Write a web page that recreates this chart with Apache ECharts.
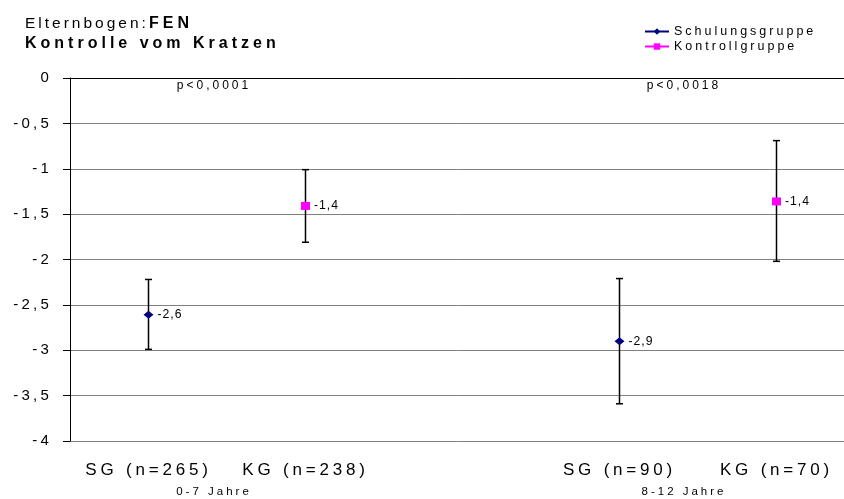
<!DOCTYPE html>
<html>
<head>
<meta charset="utf-8">
<title>Kontrolle vom Kratzen</title>
<script src="https://cdn.jsdelivr.net/npm/echarts@6/dist/echarts.min.js"></script>
<style>
  html, body { margin: 0; padding: 0; background: #fff; }
  #main { width: 844px; height: 499px; }
</style>
</head>
<body>
<div id="main"></div>
<script>
// Kategorien (leere Mitte trennt die beiden Altersgruppen)
const categories = ['SG (n=265)', 'KG (n=238)', '', 'SG (n=90)', 'KG (n=70)']
const seriesNames = ['Schulungsgruppe', 'Kontrollgruppe']
const groupLabels = ['0-7 Jahre', '8-12 Jahre']
const pLabels = ['p<0,0001', 'p<0,0018']

// Mittelwerte und Fehlerbalken (untere / obere Grenze)
const sgMean = [-2.61, null, null, -2.90, null]
const sgLow = [-2.99, null, null, -3.59, null]
const sgHigh = [-2.22, null, null, -2.21, null]
const kgMean = [null, -1.41, null, null, -1.36]
const kgLow = [null, -1.81, null, null, -2.02]
const kgHigh = [null, -1.01, null, null, -0.69]

// y-Achse
const yMin = -4
const yMax = 0
const yStep = 0.5

const FONT = '"Liberation Sans", Arial, sans-serif'
const groupX = [214, 684] // Mitte der Gruppenbeschriftungen

const comma = v => String(v).replace('.', ',')
const asLine = arr => arr.map(v => (v === null ? '-' : v))
const errData = (low, high) => {
    const out = []
    low.forEach((v, i) => {
        if (v !== null) out.push([i, v, high[i]])
    })
    return out
}

// gesperrte Schrift wie im Excel-Original (Sperrung je Schriftgröße)
const SPACING = { 17: 3.8, 16: 4, 15.5: 3, 15: 3.2, 12.5: 3, 12: 3, 11.5: 3, 12.2: 1 }
const fillText = CanvasRenderingContext2D.prototype.fillText
CanvasRenderingContext2D.prototype.fillText = function (...args) {
    const m = /([\d.]+)px/.exec(this.font)
    const s = m ? SPACING[parseFloat(m[1])] : undefined
    this.letterSpacing = (s === undefined ? 3 : s) + 'px'
    return fillText.apply(this, args)
}

const chart = echarts.init(document.getElementById('main'))

function renderErr(params, api) {
    const top = api.coord([api.value(0), api.value(2)])
    const bot = api.coord([api.value(0), api.value(1)])
    const style = { stroke: '#000', lineWidth: 1.5 }
    const cap = 3.5
    return {
        type: 'group',
        children: [
            { type: 'line', shape: { x1: top[0], y1: top[1], x2: bot[0], y2: bot[1] }, style },
            { type: 'line', shape: { x1: top[0] - cap, y1: top[1], x2: top[0] + cap, y2: top[1] }, style },
            { type: 'line', shape: { x1: bot[0] - cap, y1: bot[1], x2: bot[0] + cap, y2: bot[1] }, style }
        ]
    }
}

const pointLabel = {
    show: true,
    position: 'right',
    distance: 4,
    fontFamily: FONT,
    fontSize: 12.2,
    color: '#000',
    formatter: p => p.value.toFixed(1).replace('.', ',')
}

chart.setOption({
    animation: false,
    title: [
        {
            text: 'Elternbogen:', left: 25, top: 16, padding: 0,
            textStyle: { fontFamily: FONT, fontSize: 15.5, fontWeight: 'normal', color: '#000' }
        },
        {
            text: 'FEN', left: 149, top: 16, padding: 0,
            textStyle: { fontFamily: FONT, fontSize: 16, fontWeight: 'bold', color: '#000' }
        },
        {
            text: 'Kontrolle vom Kratzen', left: 25, top: 36, padding: 0,
            textStyle: { fontFamily: FONT, fontSize: 16, fontWeight: 'bold', color: '#000' }
        }
    ],
    legend: {
        data: seriesNames,
        orient: 'vertical',
        left: 644,
        top: 25,
        padding: 0,
        itemWidth: 24,
        itemHeight: 8,
        itemGap: 2,
        textStyle: { fontFamily: FONT, fontSize: 12.5, color: '#000', lineHeight: 12 }
    },
    grid: { left: 70, right: -11, top: 78, bottom: 58, outerBoundsMode: 'none' },
    xAxis: {
        type: 'category',
        data: categories,
        boundaryGap: true,
        axisLine: { lineStyle: { color: '#000', width: 1 } },
        axisTick: { show: false },
        axisLabel: { interval: 0, margin: 21, fontFamily: FONT, fontSize: 17, color: '#000' }
    },
    yAxis: {
        type: 'value',
        min: yMin,
        max: yMax,
        interval: yStep,
        axisLine: { show: true, lineStyle: { color: '#000', width: 1 } },
        axisTick: { show: true, length: 7, lineStyle: { color: '#000' } },
        splitLine: { show: true, lineStyle: { color: '#808080', width: 1 } },
        axisLabel: { margin: 18, fontFamily: FONT, fontSize: 15, color: '#000', formatter: comma }
    },
    graphic: [
        ...pLabels.map((t, i) => ({
            type: 'text', x: groupX[i], y: 86,
            style: { text: t, fontFamily: FONT, fontSize: 12, fill: '#000', align: 'center', verticalAlign: 'middle' }
        })),
        ...groupLabels.map((t, i) => ({
            type: 'text', x: groupX[i], y: 492,
            style: { text: t, fontFamily: FONT, fontSize: 11.5, fill: '#000', align: 'center', verticalAlign: 'middle' }
        }))
    ],
    series: [
        {
            type: 'custom', name: 'sgErr', renderItem: renderErr,
            encode: { x: 0, y: [1, 2] }, data: errData(sgLow, sgHigh), silent: true, z: 1
        },
        {
            type: 'custom', name: 'kgErr', renderItem: renderErr,
            encode: { x: 0, y: [1, 2] }, data: errData(kgLow, kgHigh), silent: true, z: 1
        },
        {
            name: seriesNames[0],
            type: 'line',
            data: asLine(sgMean),
            symbol: 'diamond',
            symbolSize: [10, 8],
            showAllSymbol: true,
            connectNulls: false,
            itemStyle: { color: '#000080' },
            lineStyle: { color: '#000080', width: 1 },
            label: pointLabel,
            z: 3
        },
        {
            name: seriesNames[1],
            type: 'line',
            data: asLine(kgMean),
            symbol: 'rect',
            symbolSize: [9, 8],
            showAllSymbol: true,
            connectNulls: false,
            itemStyle: { color: '#ff00ff' },
            lineStyle: { color: '#ff00ff', width: 1 },
            label: pointLabel,
            z: 3
        }
    ]
})
</script>
</body>
</html>
